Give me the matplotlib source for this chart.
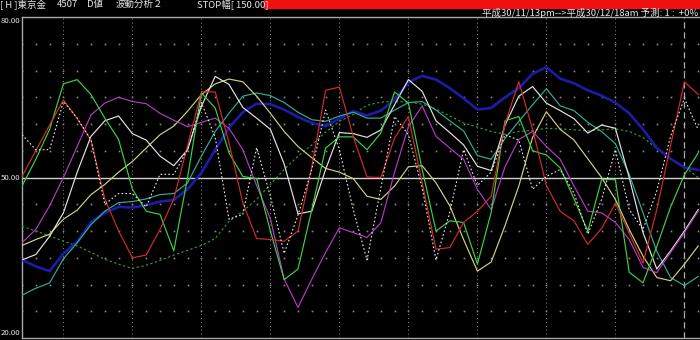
import numpy as np
import matplotlib
matplotlib.use("Agg")
import matplotlib.pyplot as plt
from matplotlib.patches import Rectangle

plt.rcParams['font.family'] = ['Noto Sans CJK JP', 'DejaVu Sans']

# ---- data (50 sessions) ----
red = [50.2, 55, 59.8, 64.5, 61, 57, 46, 40, 35, 35.5, 40.3, 46, 56, 66, 66, 56.5, 45.3, 38.6, 38.4, 38.1,
       40, 52, 66.3, 66.9, 57.7, 50.1, 50, 57.4, 61.4, 49, 36.6, 36.9, 41.6, 43.7, 46.5, 60, 67.9, 59, 48.5, 43.7,
       41.9, 37.5, 40.5, 45.2, 39.6, 34, 44, 56, 67.9, 65.5]
green = [48.4, 53.4, 59, 67.5, 68.3, 65.5, 61.1, 57.1, 47.8, 43.7, 43.1, 36.3, 50, 65.8, 63, 54.6, 50.2, 49.8, 40, 30.9,
         32.9, 44, 55.5, 57.6, 57.6, 55.2, 58.3, 66, 63.9, 51.5, 40, 41.9, 41.6, 33.8, 43.5, 60.6, 61.4, 55, 54.2, 51.8,
         46, 40, 49.6, 49.6, 32.3, 30.3, 37.1, 44.5, 50.5, 54.6]
magenta = [37.8, 40.3, 44.7, 50, 55.8, 61.7, 63.9, 65, 64.2, 63.8, 62, 60.7, 59.5, 60.3, 61.1, 59.2, 55.2, 48.5, 42.3, 31,
           25.7, 31, 36, 40.6, 39.7, 38.8, 41.5, 51, 59.5, 63.4, 57.7, 55.5, 53.4, 47.8, 44, 52, 57.1, 58.6, 55.8, 53.4,
           48.4, 43.7, 43.4, 41.6, 38.4, 33.2, 32.2, 36, 39.7, 43.7]
white = [34.6, 35.6, 39, 43.4, 51, 57.7, 60.6, 61.5, 58.2, 57, 54, 52.2, 55.2, 63.3, 68.9, 67.4, 63.1, 61.1, 59, 52.5,
         43.2, 43.7, 51.5, 58.4, 58.2, 57.5, 58.9, 63.6, 68.3, 66.1, 60.6, 58.4, 56.1, 52.1, 51.3, 59.8, 65.2, 67, 63.9, 62.5,
         61, 58.3, 59.8, 59.2, 50, 39.7, 32.9, 36.3, 40, 44]
khaki = [37.3, 38.4, 39.4, 42.2, 43.9, 46.8, 48.7, 51, 53, 55.5, 58, 59.6, 62.4, 65.5, 67.5, 68.4, 67.9, 65.2, 62, 58.6,
         55.8, 53.7, 51.7, 51, 49.8, 46.5, 45.9, 48.4, 52, 52.2, 49, 44.7, 38.4, 32.5, 34.2, 41, 48.4, 57.5, 62.3, 59,
         57, 53.5, 50, 45.9, 40.3, 35.3, 31.3, 30.7, 33.8, 37.2]
teal = [28, 29.3, 30.3, 34.8, 37.8, 41.2, 43.7, 45.3, 45.5, 46, 46.8, 47, 49, 54, 58.6, 62, 65.2, 65.8, 65.3, 64,
        62.2, 60.8, 60.5, 61.5, 62.2, 61.1, 61.1, 62.6, 64, 64.2, 62.6, 60.6, 58.7, 54.1, 53.4, 57.3, 60.5, 63.6, 66.6, 63.4,
        62.5, 60.3, 58.6, 56.3, 50.6, 43.4, 36.2, 31.3, 29.8, 31.5]
blue = [34.6, 33.4, 32.5, 35.8, 38, 41.6, 43.4, 44.5, 44.4, 44.8, 45.5, 45.8, 47.8, 50.9, 55.2, 59.3, 62.2, 63.8, 63.7, 62.7,
        61.3, 60.2, 59.6, 61, 62.4, 61.6, 62.5, 64.5, 67.8, 69, 68.3, 66.7, 64.8, 62.7, 63, 65, 66.7, 69.4, 70.6, 68.5,
        67.6, 66.3, 65.3, 64, 62, 59, 55.5, 53.5, 51.9, 51.4]
green_dot = [40.9, 40, 39.1, 38.1, 37.2, 36, 34.7, 33.8, 33, 33.6, 34.5, 35.5, 36.4, 37.3, 38.6, 41.8, 43.7, 45.9, 48.7, 51.5,
             54, 56.1, 58.5, 60.5, 61.8, 63.5, 64.1, 64.2, 64.1, 63.7, 62.8, 61.5, 60.2, 59.4, 58.6, 58.1, 58.6, 58.8, 59.2, 59.1,
             58.9, 58.7, 58.9, 59.1, 58.6, 57.5, 55.4, 53.4, 52, 50]
white_dot = [58, 55.2, 55.2, 64.2, 61.1, 57, 45, 47, 47, 44.5, 50.6, 50.6, 55.2, 64, 57.5, 42.2, 43.1, 55.6, 46.5, 35.8,
             43, 51.5, 62.6, 55.2, 44, 34.6, 48, 61.4, 58, 48, 34.6, 43.5, 55.2, 48.5, 51, 58, 57, 47.8, 50.2, 51.5,
             47.1, 39.4, 45.9, 55.2, 44, 40.3, 47.5, 57.7, 64.8, 58.9]

y_ticks = [80, 50, 20]
y_tick_labels = ["80.00", "50.00", "20.00"]
grid_levels = [75, 70, 65, 60, 55, 45, 40, 35, 30, 25]
vgrid_idx = [3, 8, 13, 18, 23, 28, 33, 38, 43]
forecast_idx = 48

header_left = ["[ H ]東京金", "4507", "D値", "波動分析２", "STOP幅[ 150.00]"]
header_right = "平成30/11/13pm-->平成30/12/18am 予測: 1 :  +0%"

# ---- figure ----
W, H = 700, 340
fig = plt.figure(figsize=(W / 100, H / 100), dpi=100, facecolor="black")
ax = fig.add_axes([22 / W, 2 / H, 678 / W, 321 / H], facecolor="black")

n = len(red)
x = np.arange(n)
ax.set_xlim(0, 678 / 13.8)
ax.set_ylim(20, 80)

# grid
for g in grid_levels:
    ax.plot(x, [g] * n, linestyle="none", marker="s", ms=1.2, mew=0, color="#8a8a8a", zorder=1)
for v in vgrid_idx:
    ax.axvline(v, color="#8a8a8a", lw=0.7, ls=(0, (1, 3)), zorder=1)
ax.axvline(forecast_idx, color="#b0b0b0", lw=0.9, ls=(0, (5, 3)), zorder=1)
ax.axhline(50, color="#cfcfcf", lw=1.0, zorder=2)

lw = 0.85
ax.plot(x, green_dot, color="#2e9a2e", lw=lw, ls=(0, (2, 2)), zorder=3)
ax.plot(x, blue, color="#1c1ca8", lw=1.9, zorder=3)
ax.plot(x, teal, color="#2fb09a", lw=lw, zorder=4)
ax.plot(x, khaki, color="#d2d27e", lw=lw, zorder=4)
ax.plot(x, white, color="#e4e4e4", lw=lw, zorder=4)
ax.plot(x, magenta, color="#b43cc4", lw=lw, zorder=4)
ax.plot(x, green, color="#3ed23e", lw=lw, zorder=5)
ax.plot(x, red, color="#d22c2c", lw=lw, zorder=5)
ax.plot(x, white_dot, color="#e8e8e8", lw=0.8, ls=(0, (1.5, 2)), zorder=5)

ax.spines["right"].set_visible(False)
for s in ["left", "top", "bottom"]:
    ax.spines[s].set_color("#a8a8a8")
    ax.spines[s].set_linewidth(1.0)
ax.set_xticks([])
ax.set_yticks([])


def ftxt(px, py, s, size=6.8, **kw):
    fig.text(px / W, 1 - py / H, s, color="#e8e8e8", fontsize=size, va="center", **kw)


# y labels
ftxt(0.5, 21, y_tick_labels[0], size=5.6, ha="left")
ftxt(0.5, 178, y_tick_labels[1], size=5.6, ha="left")
ftxt(0.5, 333, y_tick_labels[2], size=5.6, ha="left")

# header
hx = [0, 57, 87, 116, 197]
for px, s in zip(hx, header_left):
    ftxt(px, 4.5, s, ha="left")
fig.patches.append(Rectangle((264 / W, 1 - 8 / H), (W - 264) / W, 8 / H,
                             transform=fig.transFigure, color="#f01010", zorder=0))
ftxt(698, 12.5, header_right, ha="right")

fig.savefig("out.png", dpi=100, facecolor="black")
